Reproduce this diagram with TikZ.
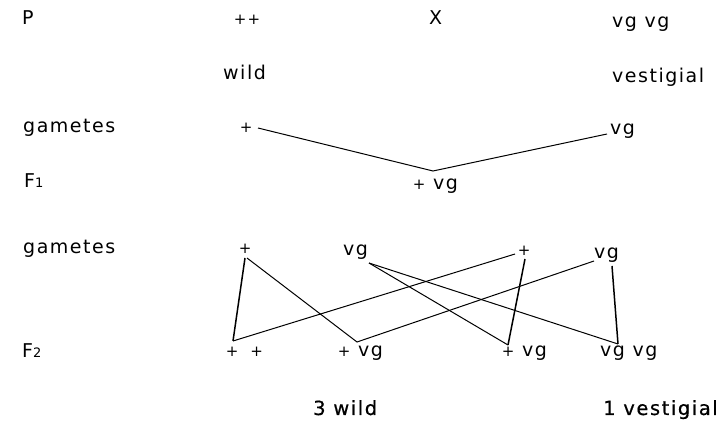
\documentclass[tikz,border=0pt]{standalone}
\usepackage{fontspec}
\setmainfont{DejaVu Sans}
\newfontfamily\labfont[LetterSpace=8]{DejaVu Sans}
\newfontfamily\bigfont[LetterSpace=8,FakeBold=0.6]{DejaVu Sans}
\newcommand{\pl}{{\fontsize{15}{15}\selectfont +}}
\newcommand{\smalldigit}[1]{{\fontsize{13}{13}\selectfont #1}}
\begin{document}
\begin{tikzpicture}[x=1pt,y=-1pt,
  lab/.style={anchor=base west, inner sep=0pt, font=\labfont\fontsize{19}{19}\selectfont},
  big/.style={anchor=base west, inner sep=0pt, font=\bigfont\fontsize{19.5}{19.5}\selectfont},
  ln/.style={line width=1pt},
  thk/.style={line width=1.5pt}]
\useasboundingbox[fill=white] (0,0) rectangle (724,422);
% row P
\node[lab] (P) at (22,25) {P};
\node[lab] (pw) at (233.7,24.4) {\pl\pl};
\node[lab] (X) at (429,25) {X};
\node[lab] (pv) at (612,28) {vg vg};
\node[lab] (wild) at (223,80) {wild};
\node[lab] (vest) at (612,83) {vestigial};
% gametes 1
\node[lab] (gam1) at (23,133) {gametes};
\node[lab] (g1w) at (239.7,132.4) {\pl};
\node[lab] (g1v) at (610,135) {vg};
% F1
\node[lab] (F1) at (24,188) {F\smalldigit{1}};
\node[lab] (f1) at (412.7,190) {\pl{} vg};
% gametes 2
\node[lab] (gam2) at (23,254) {gametes};
\node[lab] (g2a) at (238.7,253.4) {\pl};
\node[lab] (g2b) at (343,256) {vg};
\node[lab] (g2c) at (517.7,255.4) {\pl};
\node[lab] (g2d) at (594,259) {vg};
% F2
\node[lab] (F2) at (22,358) {F\smalldigit{2}};
\node[lab] (f2a) at (225.7,357) {\pl\hspace{12pt}\pl};
\node[lab] (f2b) at (337.7,357) {\pl{} vg};
\node[lab] (f2c) at (501.7,357) {\pl{} vg};
\node[lab] (f2d) at (600,357) {vg vg};
% totals
\node[big] (w3) at (313,415) {3 wild};
\node[big] (v1) at (603,415) {1 vestigial};
% connector points
\coordinate (t1) at (258,128);
\coordinate (t2) at (433,171);
\coordinate (t3) at (607,134);
\coordinate (pA) at (245,258);
\coordinate (pA2) at (247,258);
\coordinate (pB) at (233,341);
\coordinate (pC) at (357,342);
\coordinate (pD) at (515,254);
\coordinate (pE) at (594,261);
\coordinate (pF) at (369,263);
\coordinate (pG) at (508,345);
\coordinate (pH) at (525,259);
\coordinate (pI) at (618,344);
\coordinate (pJ) at (612,266);
% connectors
\draw[ln] (t1) -- (t2) -- (t3);
\draw[thk] (pA) -- (pB);
\draw[ln] (pB) -- (pD);
\draw[ln] (pA2) -- (pC) -- (pE);
\draw[ln] (pF) -- (pG);
\draw[thk] (pH) -- (pG);
\draw[ln] (pF) -- (pI);
\draw[thk] (pJ) -- (pI);
\end{tikzpicture}
\end{document}
